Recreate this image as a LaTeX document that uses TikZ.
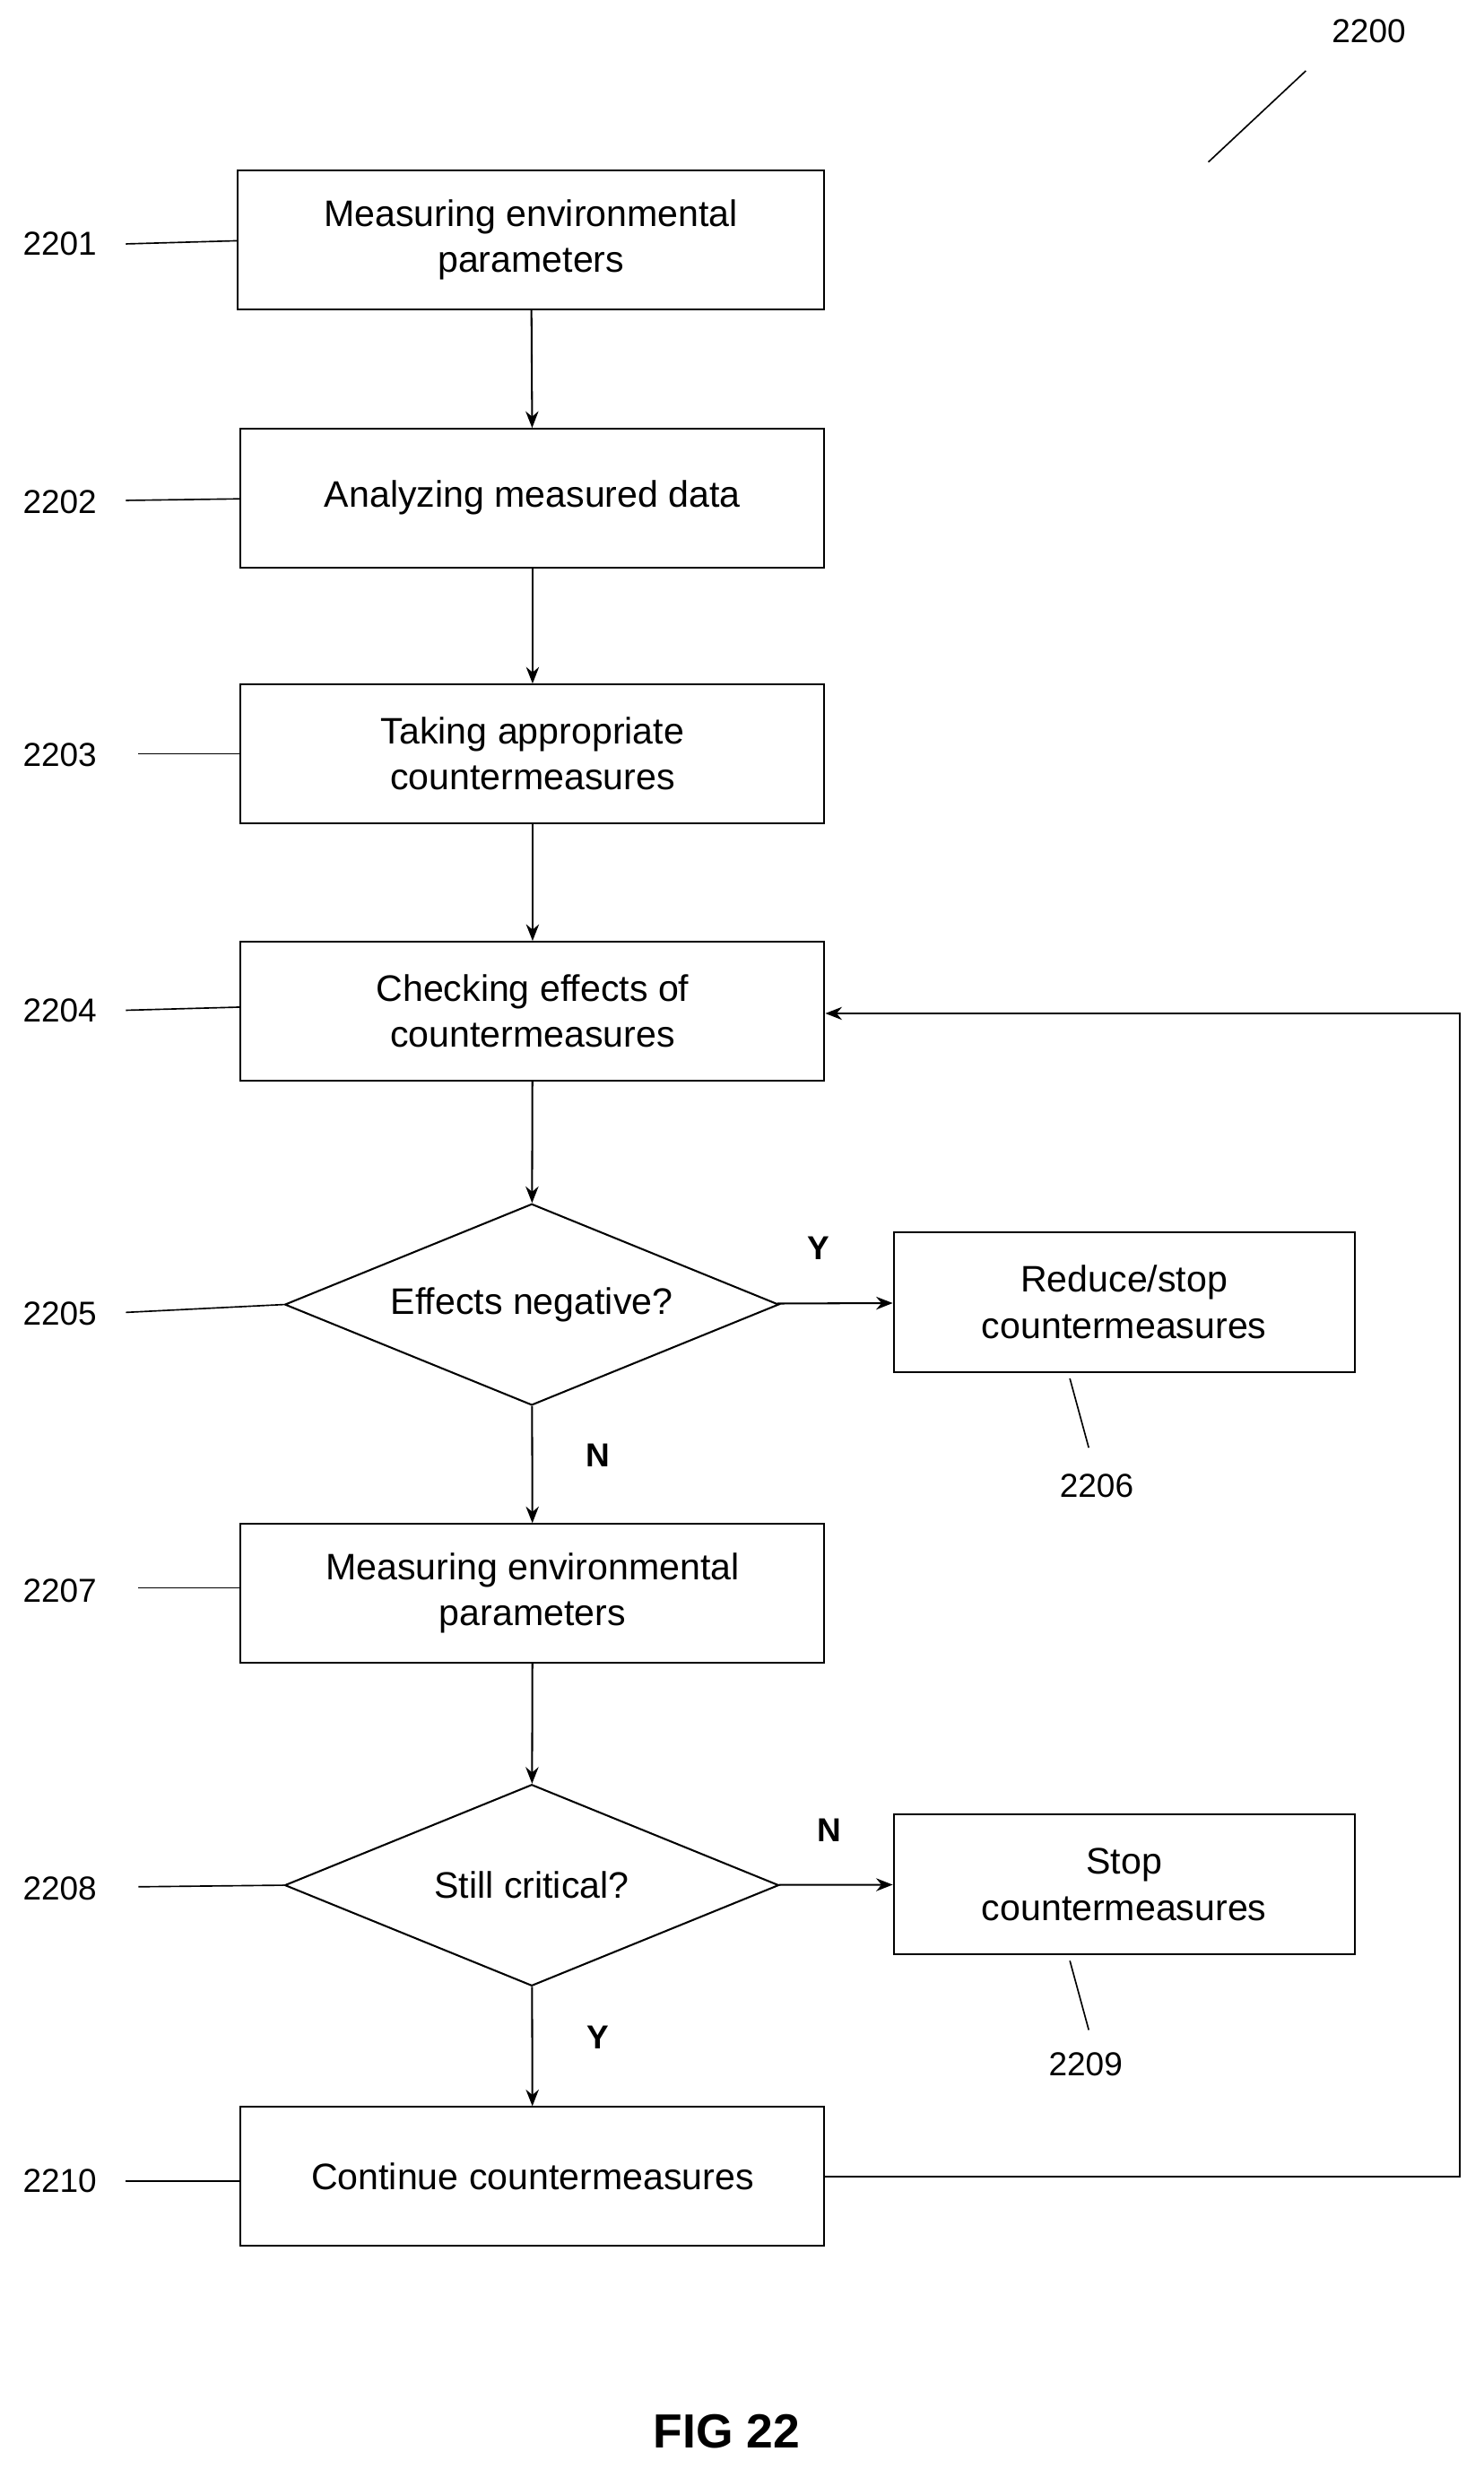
\documentclass[tikz,border=0pt]{standalone}
\usepackage{fontspec}
\setmainfont{Liberation Sans}
\usetikzlibrary{shapes.geometric,arrows.meta}
\begin{document}
\begin{tikzpicture}[x={(0.03cm,0)},y={(0,-0.03cm)},
  every node/.style={font=\fontsize{20}{25}\selectfont},
  box/.style={draw,line width=1pt,align=center,inner sep=0pt,minimum width=11.13cm,minimum height=2.64cm},
  sbox/.style={box,minimum width=8.79cm,minimum height=2.67cm},
  dia/.style={draw,line width=1pt,diamond,inner sep=0pt,minimum width=9.42cm,minimum height=3.84cm,aspect=2.45},
  arr/.style={-{Stealth[length=9pt,width=7pt]},line width=1pt},
  ln/.style={line width=0.8pt},
  lab/.style={font=\fontsize{18}{22}\selectfont},
  yn/.style={font=\fontsize{18}{22}\selectfont\bfseries}]
\useasboundingbox (0,0) rectangle (943,1569);
\node[box,minimum width=11.19cm] (b1) at (337.5,152.5) {Measuring environmental\\parameters};
\node[box] (b2) at (338.5,316.5) {Analyzing measured data};
\node[box] (b3) at (338.5,479) {Taking appropriate\\countermeasures};
\node[box] (b4) at (338.5,642.5) {Checking effects of\\countermeasures};
\node[dia] (d5) at (338,829) {Effects negative?};
\node[sbox] (b6) at (714.5,827.5) {Reduce/stop\\countermeasures};
\node[box] (b7) at (338.5,1012.5) {Measuring environmental\\parameters};
\node[dia] (d8) at (338,1198) {Still critical?};
\node[sbox] (b9) at (714.5,1197.5) {Stop\\countermeasures};
\node[box] (b10) at (338.5,1383) {Continue countermeasures};
\draw[arr] (b1) -- (b2);
\draw[arr] (b2) -- (b3);
\draw[arr] (b3) -- (b4);
\draw[arr] (b4) -- (d5);
\draw[arr] (d5) -- (b6);
\draw[arr] (d5) -- (b7);
\draw[arr] (b7) -- (d8);
\draw[arr] (d8) -- (b9);
\draw[arr] (d8) -- (b10);
\coordinate (c1) at (928,1383);
\coordinate (c2) at (928,644);
\draw[arr] (b10.east) -- (c1) -- (c2) -- (b4.east |- c2);
\node[yn] (y1) at (520,793) {Y};
\node[yn] (n1) at (380,925) {N};
\node[yn] (n2) at (527,1163) {N};
\node[yn] (y2) at (380,1295) {Y};
\node[lab] (l2201) at (38,155) {2201};
\node[lab] (l2202) at (38,319) {2202};
\node[lab] (l2203) at (38,480) {2203};
\node[lab] (l2204) at (38,642) {2204};
\node[lab] (l2205) at (38,835) {2205};
\node[lab] (l2207) at (38,1011) {2207};
\node[lab] (l2208) at (38,1200) {2208};
\node[lab] (l2210) at (38,1386) {2210};
\node[lab] (l2206) at (697,944) {2206};
\node[lab] (l2209) at (690,1312) {2209};
\node[lab] (l2200) at (870,20) {2200};
\draw[ln] (80,155) -- (b1.west |- 0,153);
\draw[ln] (80,318) -- (b2.west |- 0,317);
\draw[ln] (88,479) -- (b3.west |- 0,479);
\draw[ln] (80,642) -- (b4.west |- 0,640);
\draw[ln] (80,834) -- (d5.west);
\draw[ln] (88,1009) -- (b7.west |- 0,1009);
\draw[ln] (88,1199) -- (d8.west);
\draw[ln] (80,1386) -- (b10.west |- 0,1386);
\draw[ln] (680,876) -- (692,920);
\draw[ln] (680,1246) -- (692,1290);
\draw[ln] (768,103) -- (830,45);
\node[font=\fontsize{26}{30}\selectfont\bfseries] (fig) at (462,1545) {FIG 22};
\end{tikzpicture}
\end{document}
